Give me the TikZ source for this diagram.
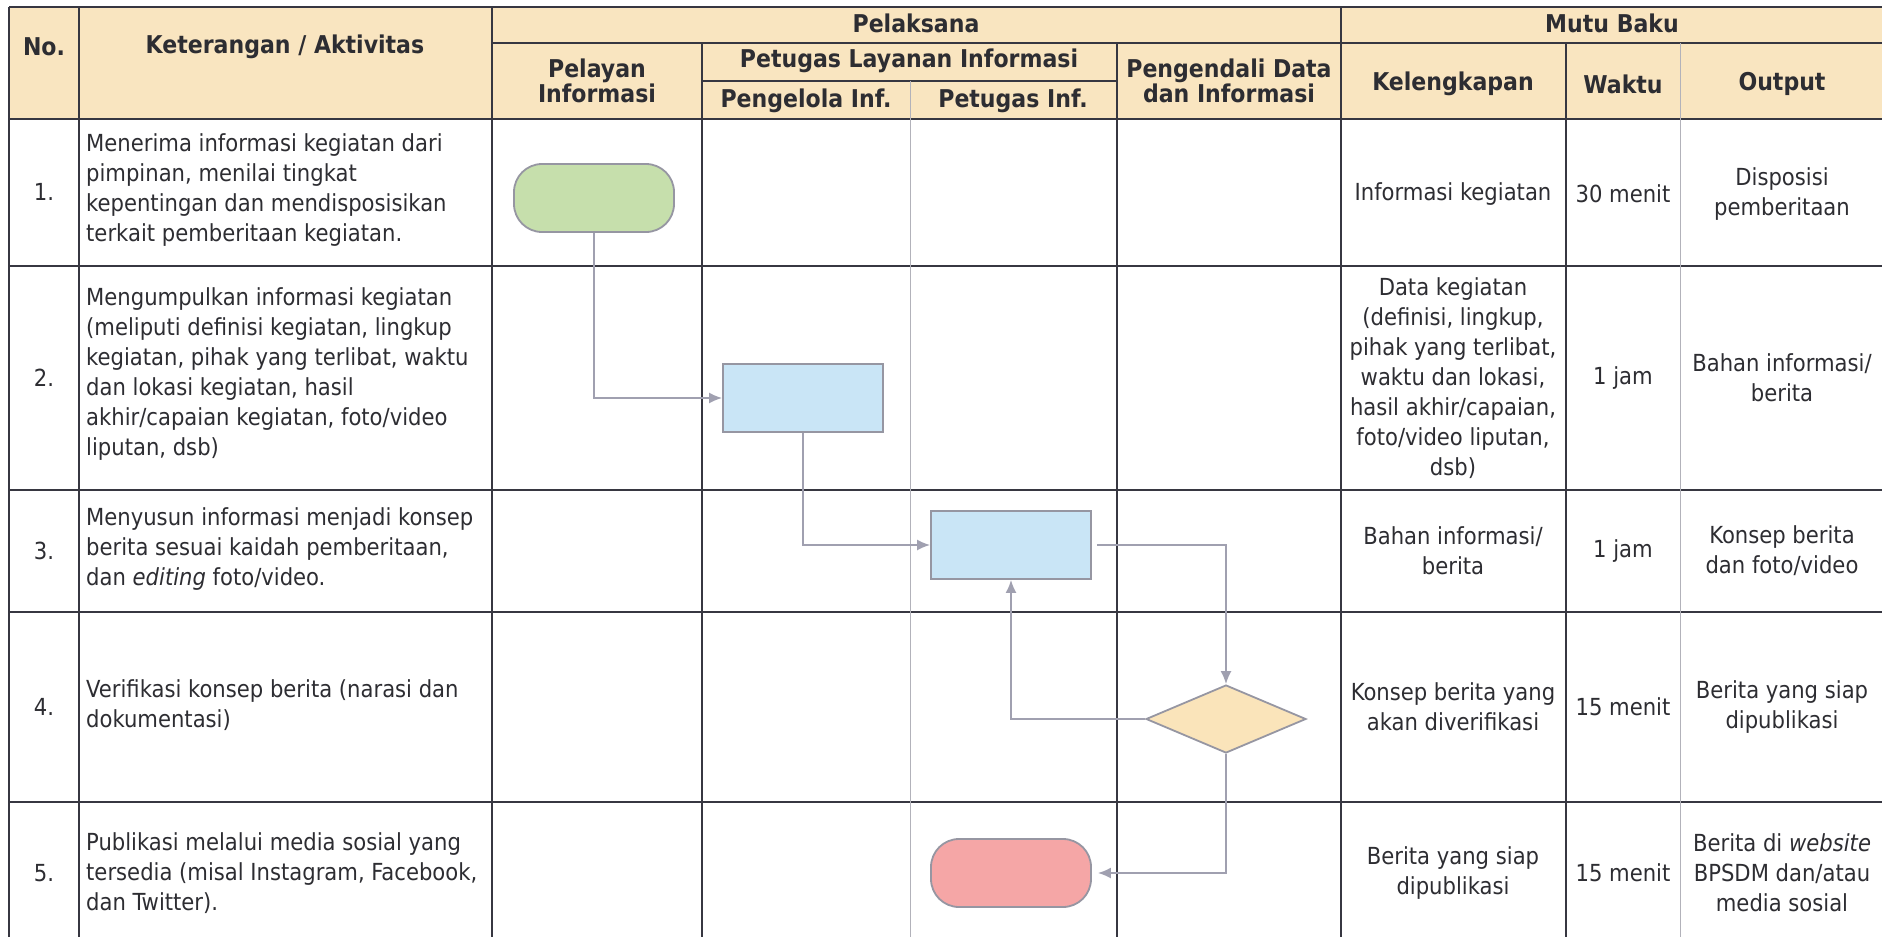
\documentclass[tikz,border=0pt]{standalone}
\usepackage{fontspec}
\setmainfont{DejaVu Sans Condensed}
\usetikzlibrary{shapes.geometric,arrows.meta}

\definecolor{headfill}{RGB}{249,229,192}
\definecolor{startfill}{RGB}{198,223,172}
\definecolor{procfill}{RGB}{201,229,246}
\definecolor{decfill}{RGB}{250,228,186}
\definecolor{endfill}{RGB}{245,166,166}
\definecolor{shapeline}{RGB}{150,150,162}
\definecolor{flowline}{RGB}{160,160,176}
\definecolor{gridline}{RGB}{55,55,65}
\definecolor{gridlight}{RGB}{178,178,186}
\definecolor{textdark}{RGB}{45,45,50}

\newcommand{\bodyfont}{\fontsize{23.5}{30}\selectfont}
\newcommand{\headfont}{\fontsize{24.5}{25}\selectfont\bfseries}

\tikzset{
  hdr/.style={font=\headfont, text=textdark, align=center, inner sep=0pt},
  cell/.style={font=\bodyfont, text=textdark, align=center, inner sep=0pt},
  desc/.style={font=\bodyfont, text=textdark, align=left, anchor=west, inner sep=0pt},
  term/.style={draw=shapeline, line width=1.8pt, rounded corners=28pt, minimum width=160pt, minimum height=68pt},
  proc/.style={draw=shapeline, line width=1.8pt, fill=procfill, minimum width=160pt, minimum height=68pt},
  dec/.style={diamond, draw=shapeline, line width=1.8pt, fill=decfill, aspect=2.35, minimum width=160pt, minimum height=68pt, inner sep=0pt},
  flow/.style={draw=flowline, line width=1.8pt, ->}
}

\begin{document}
\begin{tikzpicture}[x=1pt,y=-1pt,>={Latex[length=13pt,width=11pt]}]
\useasboundingbox (0,0) rectangle (1882,937);

% table
\fill[headfill] (9,7) rectangle (1884,119);
\begin{scope}[draw=gridline,line width=1.4pt]
\draw (9,7) -- (1882,7);
\draw (492,43) -- (1882,43);
\draw (702,81) -- (1117,81);
\draw (9,119) -- (1882,119);
\draw (9,266) -- (1882,266);
\draw (9,490) -- (1882,490);
\draw (9,612) -- (1882,612);
\draw (9,802) -- (1882,802);
\draw (9,7) -- (9,937);
\draw (79,7) -- (79,937);
\draw (492,7) -- (492,937);
\draw (702,43) -- (702,937);
\draw (1117,43) -- (1117,937);
\draw (1341,7) -- (1341,937);
\draw (1566,43) -- (1566,937);
\draw[gridlight,line width=1pt] (910,81) -- (910,937);
\draw[gridlight,line width=1pt] (1680,43) -- (1680,937);
\end{scope}

% header
\node[hdr] (hno) at (44,47) {No.};
\node[hdr] (hket) at (285,47) {Keterangan / Aktivitas};
\node[hdr] (hpel) at (916,23) {Pelaksana};
\node[hdr] (hmutu) at (1612,23) {Mutu Baku};
\node[hdr] (hpelayan) at (597,81) {Pelayan\\Informasi};
\node[hdr] (hpli) at (909,61) {Petugas Layanan Informasi};
\node[hdr] (hpengelola) at (806,101) {Pengelola Inf.};
\node[hdr] (hpetugas) at (1013,101) {Petugas Inf.};
\node[hdr] (hpengendali) at (1229,81) {Pengendali Data\\dan Informasi};
\node[hdr] (hkel) at (1453,84) {Kelengkapan};
\node[hdr] (hwaktu) at (1623,84) {Waktu};
\node[hdr] (hout) at (1782,84) {Output};

% row 1
\node[cell] (no1) at (44,192) {1.};
\node[desc] (ket1) at (86,190) {Menerima informasi kegiatan dari\\pimpinan, menilai tingkat\\kepentingan dan mendisposisikan\\terkait pemberitaan kegiatan.};
\node[cell] (kel1) at (1453,194) {Informasi kegiatan};
\node[cell] (waktu1) at (1623,194) {30 menit};
\node[cell] (out1) at (1782,194) {Disposisi\\pemberitaan};

% row 2
\node[cell] (no2) at (44,378) {2.};
\node[desc] (ket2) at (86,374) {Mengumpulkan informasi kegiatan\\(meliputi definisi kegiatan, lingkup\\kegiatan, pihak yang terlibat, waktu\\dan lokasi kegiatan, hasil\\akhir/capaian kegiatan, foto/video\\liputan, dsb)};
\node[cell] (kel2) at (1453,378) {Data kegiatan\\(definisi, lingkup,\\pihak yang terlibat,\\waktu dan lokasi,\\hasil akhir/capaian,\\foto/video liputan,\\dsb)};
\node[cell] (waktu2) at (1623,378) {1 jam};
\node[cell] (out2) at (1782,378) {Bahan informasi/\\berita};

% row 3
\node[cell] (no3) at (44,551) {3.};
\node[desc] (ket3) at (86,549) {Menyusun informasi menjadi konsep\\berita sesuai kaidah pemberitaan,\\dan \textit{editing} foto/video.};
\node[cell] (kel3) at (1453,551) {Bahan informasi/\\berita};
\node[cell] (waktu3) at (1623,551) {1 jam};
\node[cell] (out3) at (1782,551) {Konsep berita\\dan foto/video};

% row 4
\node[cell] (no4) at (44,707) {4.};
\node[desc] (ket4) at (86,705) {Verifikasi konsep berita (narasi dan\\dokumentasi)};
\node[cell] (kel4) at (1453,707) {Konsep berita yang\\akan diverifikasi};
\node[cell] (waktu4) at (1623,707) {15 menit};
\node[cell] (out4) at (1782,707) {Berita yang siap\\dipublikasi};

% row 5
\node[cell] (no5) at (44,873) {5.};
\node[desc] (ket5) at (86,873) {Publikasi melalui media sosial yang\\tersedia (misal Instagram, Facebook,\\dan Twitter).};
\node[cell] (kel5) at (1453,873) {Berita yang siap\\dipublikasi};
\node[cell] (waktu5) at (1623,873) {15 menit};
\node[cell] (out5) at (1782,873) {Berita di \textit{website}\\BPSDM dan/atau\\media sosial};

% flow
\node[term,fill=startfill] (mulai) at (594,198) {};
\node[proc] (kumpul) at (803,398) {};
\node[proc] (susun) at (1011,545) {};
\node[dec] (verif) at (1226,719) {};
\node[term,fill=endfill] (publik) at (1011,873) {};

\draw[flow] (mulai) |- (kumpul);
\draw[flow] (kumpul) |- (susun);
\draw[flow,shorten <=5pt] (susun) -| (verif);
\draw[flow] (verif) -| (susun);
\draw[flow,shorten >=6pt] (verif) |- (publik);
\end{tikzpicture}
\end{document}
